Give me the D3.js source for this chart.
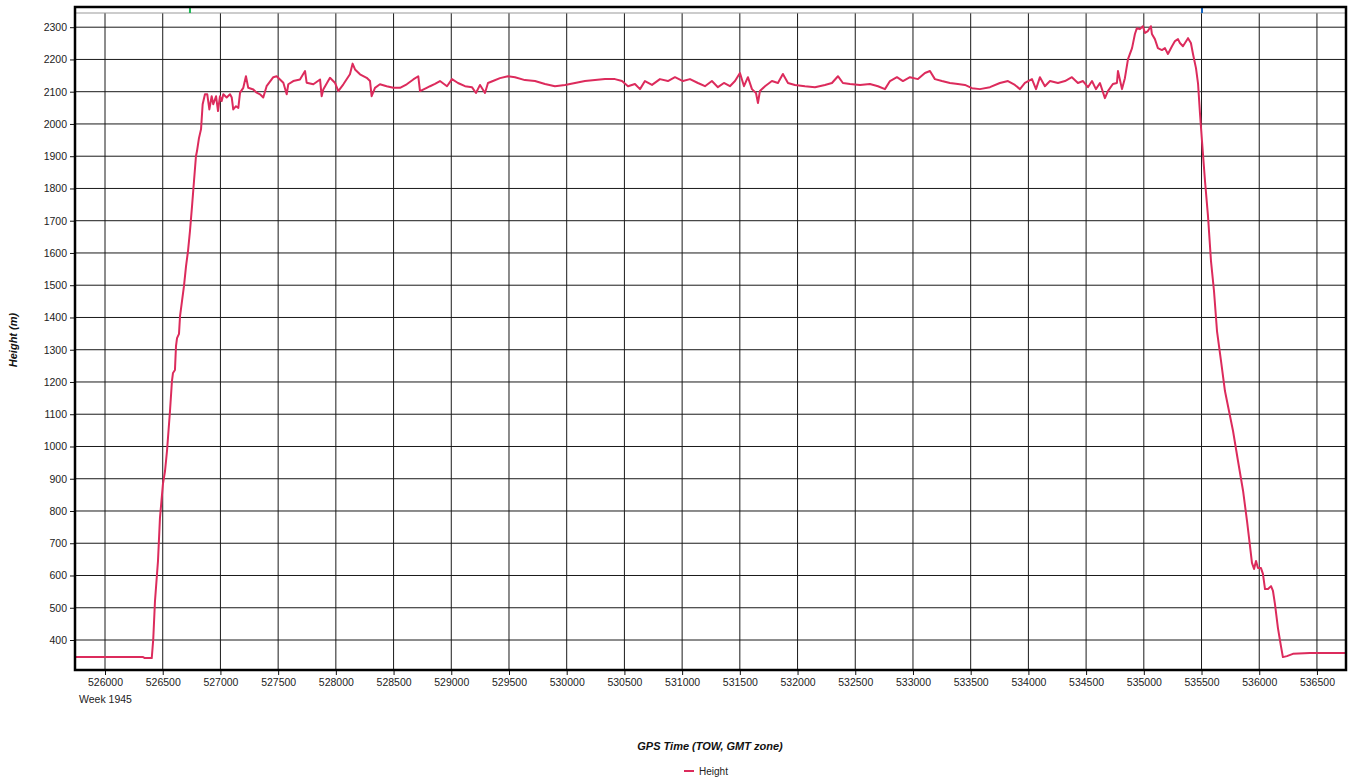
<!DOCTYPE html>
<html>
<head>
<meta charset="utf-8">
<script src="https://cdn.jsdelivr.net/npm/d3@7"></script>
<style>
  html, body { margin: 0; padding: 0; background: #fff; }
  svg { display: block; font-family: "Liberation Sans", Arial, sans-serif; }
</style>
</head>
<body>
<svg id="chart" width="1349" height="778"></svg>
<script>
// GPS time of week (s) for each height sample
const timeOfWeek = [
  525740, 526330, 526345, 526405,
  526418, 526433, 526459, 526476, 526502, 526520, 526537, 526563, 526580, 526589,
  526606, 526615, 526624, 526641, 526650, 526667, 526684, 526702, 526719, 526736,
  526754, 526771, 526788, 526797, 526814, 526832,
  526846, 526866, 526886, 526904, 526924, 526938, 526962, 526979, 526996, 527011,
  527025, 527054, 527083, 527098, 527111, 527135, 527155, 527170, 527198, 527221,
  527241, 527285, 527314, 527343, 527371, 527400, 527458, 527487, 527545, 527574,
  527588, 527631, 527689, 527733, 527747, 527805, 527863, 527877, 527891, 527949,
  527992, 528021, 528065, 528122, 528145, 528166, 528209, 528267, 528296, 528310,
  528339, 528382, 528440, 528498, 528556, 528614, 528671, 528714, 528729, 528787,
  528816, 528859, 528902, 528963, 529006, 529058, 529119, 529179, 529214, 529249,
  529292, 529318, 529361, 529422, 529491, 529552, 529638, 529725, 529812, 529898,
  529985, 530072, 530158, 530245, 530332, 530418, 530479, 530531, 530591, 530635,
  530678, 530739, 530808, 530877, 530938, 531007, 531068, 531137, 531198, 531258,
  531310, 531362, 531414, 531458, 531501, 531536, 531570, 531605, 531640, 531657,
  531674, 531718, 531778, 531830, 531873, 531917, 531977, 532064, 532151, 532237,
  532298, 532350, 532393, 532454, 532541, 532627, 532697, 532757, 532801, 532861,
  532913, 532974, 533043, 533104, 533147, 533190, 533251, 533320, 533389, 533450,
  533511, 533580, 533667, 533753, 533823, 533883, 533927, 533970, 534031, 534066,
  534100, 534143, 534187, 534256, 534317, 534377, 534429, 534473, 534516, 534551,
  534585, 534620, 534663, 534689, 534732, 534767, 534776, 534811, 534836, 534863,
  534898, 534923, 534940, 534966, 534992, 535010, 535035, 535061, 535070, 535096,
  535122, 535157, 535183, 535209, 535244, 535270, 535296, 535313, 535339, 535383,
  535408, 535426, 535452, 535470, 535487, 535504, 535530, 535556, 535582, 535608,
  535634, 535669, 535703, 535738, 535773, 535816, 535860, 535894, 535920, 535937,
  535955, 535972, 535989, 536015, 536032, 536050, 536076, 536102, 536119, 536136,
  536162, 536188, 536205, 536240, 536292, 536439, 536751
];

// Antenna height (m)
const heightM = [
  347, 347, 344, 344,
  403, 521, 645, 778, 884, 924, 986, 1110, 1203, 1228,
  1237, 1311, 1336, 1349, 1404, 1451, 1497, 1559, 1606, 1668,
  1745, 1823, 1900, 1916, 1956, 1984,
  2061, 2092, 2092, 2045, 2086, 2061, 2086, 2040, 2086, 2071,
  2092, 2082, 2092, 2082, 2045, 2055, 2050, 2097, 2112, 2148,
  2112, 2107, 2097, 2092, 2082, 2117, 2145, 2148, 2128, 2092,
  2123, 2133, 2138, 2164, 2128, 2123, 2138, 2086, 2107, 2143,
  2128, 2102, 2123, 2154, 2187, 2169, 2154, 2143, 2133, 2086,
  2112, 2123, 2117, 2112, 2112, 2123, 2138, 2148, 2102, 2112,
  2117, 2124, 2133, 2117, 2139, 2127, 2117, 2114, 2096, 2121,
  2096, 2127, 2133, 2142, 2148, 2145, 2136, 2133, 2124, 2117,
  2121, 2127, 2133, 2136, 2139, 2139, 2133, 2117, 2124, 2108,
  2133, 2121, 2139, 2133, 2145, 2133, 2139, 2127, 2117, 2133,
  2114, 2127, 2117, 2133, 2158, 2117, 2145, 2108, 2096, 2065,
  2102, 2117, 2133, 2127, 2155, 2127, 2121, 2117, 2114, 2121,
  2127, 2148, 2127, 2124, 2121, 2124, 2117, 2108, 2133, 2145,
  2133, 2145, 2139, 2158, 2164, 2139, 2133, 2127, 2124, 2121,
  2111, 2108, 2114, 2127, 2133, 2121, 2108, 2127, 2139, 2108,
  2145, 2117, 2133, 2127, 2133, 2145, 2127, 2133, 2114, 2133,
  2108, 2127, 2080, 2102, 2124, 2127, 2164, 2108, 2142, 2201,
  2235, 2279, 2297, 2294, 2303, 2282, 2288, 2303, 2279, 2263,
  2235, 2229, 2235, 2217, 2241, 2257, 2263, 2251, 2241, 2266,
  2251, 2217, 2173, 2124, 2031, 1947, 1823, 1714, 1575, 1482,
  1358, 1265, 1172, 1110, 1048, 955, 862, 769, 691, 639,
  620, 645, 623, 623, 605, 558, 558, 567, 552, 512,
  437, 381, 347, 350, 357, 360, 360
];

const xTicks = [526000, 526500, 527000, 527500, 528000, 528500, 529000, 529500, 530000,
  530500, 531000, 531500, 532000, 532500, 533000, 533500, 534000, 534500, 535000,
  535500, 536000, 536500];
const yTicks = [400, 500, 600, 700, 800, 900, 1000, 1100, 1200, 1300, 1400, 1500,
  1600, 1700, 1800, 1900, 2000, 2100, 2200, 2300];

const weekLabel = "Week 1945";
const xTitle = "GPS Time (TOW, GMT zone)";
const yTitle = "Height (m)";
const seriesName = "Height";
const cursorTimes = [526736, 535504];
const cursorColors = ["#1db954", "#1565c0"];

const lineColor = "#dc2b5c";

const svg = d3.select("#chart");

const plot = { left: 75, right: 1345, top: 13, bottom: 670 };

const x = d3.scaleLinear().domain([525740, 536743]).range([plot.left, plot.right]);
const y = d3.scaleLinear().domain([307, 2344]).range([plot.bottom, plot.top]);

// grid
const grid = svg.append("g");
grid.selectAll("line.v").data(xTicks).join("line")
  .attr("x1", d => x(d)).attr("x2", d => x(d))
  .attr("y1", plot.top).attr("y2", plot.bottom)
  .attr("stroke", "#1a1a1a").attr("stroke-width", 1);
grid.selectAll("line.h").data(yTicks).join("line")
  .attr("x1", plot.left).attr("x2", plot.right)
  .attr("y1", d => y(d)).attr("y2", d => y(d))
  .attr("stroke", "#1a1a1a").attr("stroke-width", 1);

// height trace
const series = timeOfWeek.map((t, i) => ({ t, h: heightM[i] }));
svg.append("defs").append("clipPath").attr("id", "clip")
  .append("rect").attr("x", plot.left).attr("y", plot.top)
  .attr("width", plot.right - plot.left).attr("height", plot.bottom - plot.top);
svg.append("path")
  .datum(series)
  .attr("clip-path", "url(#clip)")
  .attr("fill", "none")
  .attr("stroke", lineColor)
  .attr("stroke-width", 2)
  .attr("stroke-linejoin", "round")
  .attr("d", d3.line().x(d => x(d.t)).y(d => y(d.h)));

// axes
const xAxis = d3.axisBottom(x).tickValues(xTicks).tickSize(5).tickPadding(4).tickFormat(d3.format("d"));
const yAxis = d3.axisLeft(y).tickValues(yTicks).tickSize(5).tickPadding(3).tickFormat(d3.format("d"));

const gx = svg.append("g").attr("transform", `translate(0,${plot.bottom})`).call(xAxis);
const gy = svg.append("g").attr("transform", `translate(${plot.left},0)`).call(yAxis);
[gx, gy].forEach(g => {
  g.select(".domain").remove();
  g.selectAll(".tick line").attr("stroke", "#111");
  g.selectAll(".tick text").attr("fill", "#222").style("font-size", "10.5px")
    .style("font-family", "'Liberation Sans', Arial, sans-serif");
});

svg.append("text").attr("x", 79).attr("y", 703)
  .attr("fill", "#222").style("font-size", "10.5px").text(weekLabel);

// frame: top strip with cursor markers
svg.append("line").attr("x1", plot.left).attr("x2", plot.right)
  .attr("y1", 13).attr("y2", 13).attr("stroke", "#999").attr("stroke-width", 1);
svg.selectAll("line.cursor").data(cursorTimes).join("line")
  .attr("x1", d => x(d)).attr("x2", d => x(d))
  .attr("y1", 8).attr("y2", 13)
  .attr("stroke", (d, i) => cursorColors[i]).attr("stroke-width", 2);
svg.append("path")
  .attr("d", `M${plot.left},${plot.bottom} V7 H${plot.right + 1} V${plot.bottom} Z`)
  .attr("fill", "none").attr("stroke", "#000").attr("stroke-width", 2.5);

// titles
svg.append("text")
  .attr("transform", "translate(17,340) rotate(-90)")
  .attr("text-anchor", "middle")
  .style("font-size", "11px").style("font-weight", "bold").style("font-style", "italic")
  .attr("fill", "#111").text(yTitle);
svg.append("text")
  .attr("x", 710).attr("y", 750).attr("text-anchor", "middle")
  .style("font-size", "11px").style("font-weight", "bold").style("font-style", "italic")
  .attr("fill", "#111").text(xTitle);

// legend
svg.append("line").attr("x1", 684).attr("x2", 694).attr("y1", 771).attr("y2", 771)
  .attr("stroke", lineColor).attr("stroke-width", 2);
svg.append("text").attr("x", 699).attr("y", 775)
  .style("font-size", "10px").attr("fill", "#222").text(seriesName);
</script>
</body>
</html>
